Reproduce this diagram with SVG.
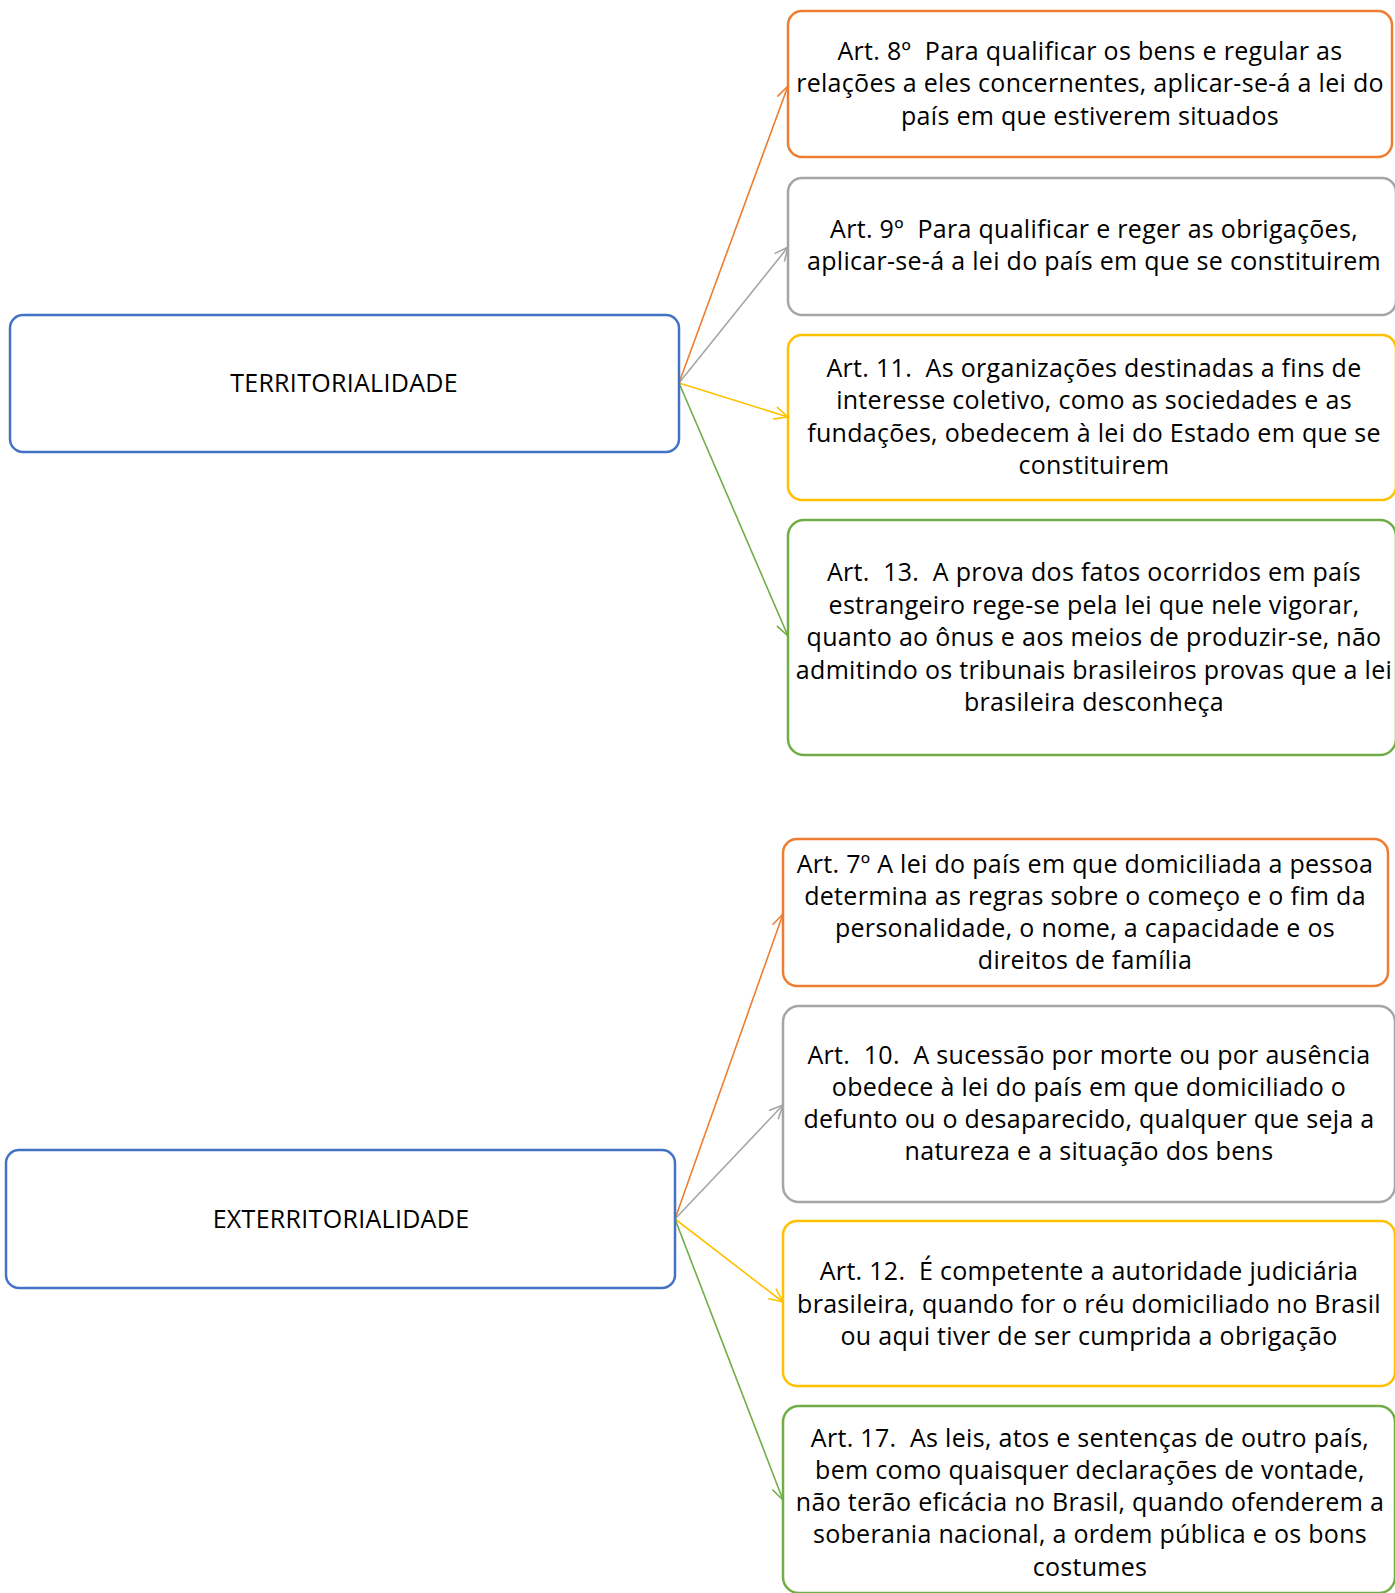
<svg xmlns="http://www.w3.org/2000/svg" width="1395" height="1593" viewBox="0 0 1395 1593">
<defs>
<style>
.t{font-family:"Open Sans","Liberation Sans",sans-serif;font-size:25px;letter-spacing:0.3px;fill:#000;text-anchor:middle;white-space:pre}
.box{fill:#fff;stroke-width:2.5}
.blue{stroke:#4472C4}.orange{stroke:#ED7D31}.gray{stroke:#A5A5A5}.yellow{stroke:#FFC000}.green{stroke:#70AD47}
.c{fill:none;stroke-width:1.6}
.m{fill:none;stroke-width:1.6;stroke-linecap:round;stroke-linejoin:round}
</style>
<marker id="aO" markerUnits="userSpaceOnUse" viewBox="-15 -8 17 16" markerWidth="17" markerHeight="16" refX="0" refY="0" orient="auto"><path class="m orange" d="M-13,-6 L0,0 L-13,6"/></marker>
<marker id="aG" markerUnits="userSpaceOnUse" viewBox="-15 -8 17 16" markerWidth="17" markerHeight="16" refX="0" refY="0" orient="auto"><path class="m gray" d="M-13,-6 L0,0 L-13,6"/></marker>
<marker id="aY" markerUnits="userSpaceOnUse" viewBox="-15 -8 17 16" markerWidth="17" markerHeight="16" refX="0" refY="0" orient="auto"><path class="m yellow" d="M-13,-6 L0,0 L-13,6"/></marker>
<marker id="aN" markerUnits="userSpaceOnUse" viewBox="-15 -8 17 16" markerWidth="17" markerHeight="16" refX="0" refY="0" orient="auto"><path class="m green" d="M-13,-6 L0,0 L-13,6"/></marker>
</defs>
<rect width="1395" height="1593" fill="#fff"/>

<g id="connectors">
<line class="c orange" x1="679" y1="383" x2="788" y2="86" marker-end="url(#aO)"/>
<line class="c gray" x1="679" y1="383" x2="788" y2="247" marker-end="url(#aG)"/>
<line class="c yellow" x1="679" y1="383" x2="788" y2="417" marker-end="url(#aY)"/>
<line class="c green" x1="679" y1="383" x2="788" y2="636" marker-end="url(#aN)"/>
<line class="c orange" x1="675" y1="1219" x2="783" y2="914" marker-end="url(#aO)"/>
<line class="c gray" x1="675" y1="1219" x2="783" y2="1105" marker-end="url(#aG)"/>
<line class="c yellow" x1="675" y1="1219" x2="783" y2="1302" marker-end="url(#aY)"/>
<line class="c green" x1="675" y1="1219" x2="783" y2="1500" marker-end="url(#aN)"/>
</g>

<g id="territorialidade">
<rect class="box blue" x="10" y="315" width="669" height="137" rx="13"/>
<text class="t" x="344" y="392">TERRITORIALIDADE</text>
</g>

<g id="art8">
<rect class="box orange" x="788" y="11" width="604" height="146" rx="14"/>
<text class="t" xml:space="preserve" x="1090"><tspan x="1090" y="60">Art. 8º  Para qualificar os bens e regular as</tspan><tspan x="1090" y="92">relações a eles concernentes, aplicar-se-á a lei do</tspan><tspan x="1090" y="125">país em que estiverem situados</tspan></text>
</g>

<g id="art9">
<rect class="box gray" x="788" y="178" width="608" height="137" rx="14"/>
<text class="t" xml:space="preserve" x="1094"><tspan x="1094" y="238">Art. 9º  Para qualificar e reger as obrigações,</tspan><tspan x="1094" y="270">aplicar-se-á a lei do país em que se constituirem</tspan></text>
</g>

<g id="art11">
<rect class="box yellow" x="788" y="335" width="608" height="165" rx="14"/>
<text class="t" xml:space="preserve" x="1094"><tspan x="1094" y="377">Art. 11.  As organizações destinadas a fins de</tspan><tspan x="1094" y="409">interesse coletivo, como as sociedades e as</tspan><tspan x="1094" y="442">fundações, obedecem à lei do Estado em que se</tspan><tspan x="1094" y="474">constituirem</tspan></text>
</g>

<g id="art13">
<rect class="box green" x="788" y="520" width="608" height="235" rx="16"/>
<text class="t" xml:space="preserve" x="1094"><tspan x="1094" y="581">Art.  13.  A prova dos fatos ocorridos em país</tspan><tspan x="1094" y="614">estrangeiro rege-se pela lei que nele vigorar,</tspan><tspan x="1094" y="646">quanto ao ônus e aos meios de produzir-se, não</tspan><tspan x="1094" y="679">admitindo os tribunais brasileiros provas que a lei</tspan><tspan x="1094" y="711">brasileira desconheça</tspan></text>
</g>

<g id="exterritorialidade">
<rect class="box blue" x="6" y="1150" width="669" height="138" rx="13"/>
<text class="t" x="341" y="1228">EXTERRITORIALIDADE</text>
</g>

<g id="art7">
<rect class="box orange" x="783" y="839" width="605" height="147" rx="14"/>
<text class="t" xml:space="preserve" x="1085"><tspan x="1085" y="873">Art. 7º A lei do país em que domiciliada a pessoa</tspan><tspan x="1085" y="905">determina as regras sobre o começo e o fim da</tspan><tspan x="1085" y="937">personalidade, o nome, a capacidade e os</tspan><tspan x="1085" y="969">direitos de família</tspan></text>
</g>

<g id="art10">
<rect class="box gray" x="783" y="1006" width="612" height="196" rx="16"/>
<text class="t" xml:space="preserve" x="1089"><tspan x="1089" y="1064">Art.  10.  A sucessão por morte ou por ausência</tspan><tspan x="1089" y="1096">obedece à lei do país em que domiciliado o</tspan><tspan x="1089" y="1128">defunto ou o desaparecido, qualquer que seja a</tspan><tspan x="1089" y="1160">natureza e a situação dos bens</tspan></text>
</g>

<g id="art12">
<rect class="box yellow" x="783" y="1221" width="612" height="165" rx="14"/>
<text class="t" xml:space="preserve" x="1089"><tspan x="1089" y="1280">Art. 12.  É competente a autoridade judiciária</tspan><tspan x="1089" y="1313">brasileira, quando for o réu domiciliado no Brasil</tspan><tspan x="1089" y="1345">ou aqui tiver de ser cumprida a obrigação</tspan></text>
</g>

<g id="art17">
<rect class="box green" x="783" y="1406" width="612" height="187" rx="16"/>
<text class="t" xml:space="preserve" x="1090"><tspan x="1090" y="1447">Art. 17.  As leis, atos e sentenças de outro país,</tspan><tspan x="1090" y="1479">bem como quaisquer declarações de vontade,</tspan><tspan x="1090" y="1511">não terão eficácia no Brasil, quando ofenderem a</tspan><tspan x="1090" y="1543">soberania nacional, a ordem pública e os bons</tspan><tspan x="1090" y="1576">costumes</tspan></text>
</g>
</svg>
